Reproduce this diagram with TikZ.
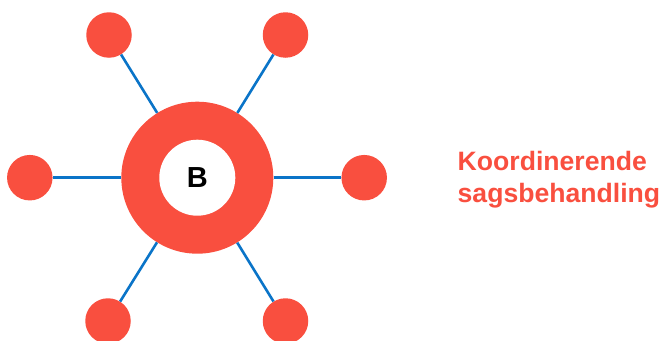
\documentclass[tikz,border=0pt]{standalone}
\usepackage{fontspec}
\setmainfont{Liberation Sans}
\definecolor{dotred}{HTML}{F94F3F}
\definecolor{linkblue}{HTML}{0A74C8}
\begin{document}
\begin{tikzpicture}[x=1pt,y=-1pt,
  sat/.style={circle,fill=dotred,minimum size=45.5pt,inner sep=0pt},
  link/.style={draw=linkblue,line width=2.6pt}]
\useasboundingbox (0,0) rectangle (666,340);
\node[circle,fill=dotred,minimum size=152pt,inner sep=0pt] (hub) at (197.3,177.7) {};
\node[circle,fill=white,minimum size=76pt,inner sep=0pt,font=\bfseries\fontsize{29}{29}\selectfont] (core) at (197.3,177.7) {B};
\node[sat] (s1) at (109,35) {};
\node[sat] (s2) at (285.5,35) {};
\node[sat] (s3) at (29.8,177.7) {};
\node[sat] (s4) at (364.2,177.7) {};
\node[sat] (s5) at (108,321) {};
\node[sat] (s6) at (285.5,321) {};
\foreach \s in {s1,s2,s3,s4,s5,s6} \draw[link] (hub) -- (\s);
\node[anchor=base west,inner sep=0pt,align=left,text=dotred,font=\bfseries\fontsize{26.6}{31.5}\selectfont] (lbl) at (457.5,202.2) {Koordinerende\\sagsbehandling};
\end{tikzpicture}
\end{document}
